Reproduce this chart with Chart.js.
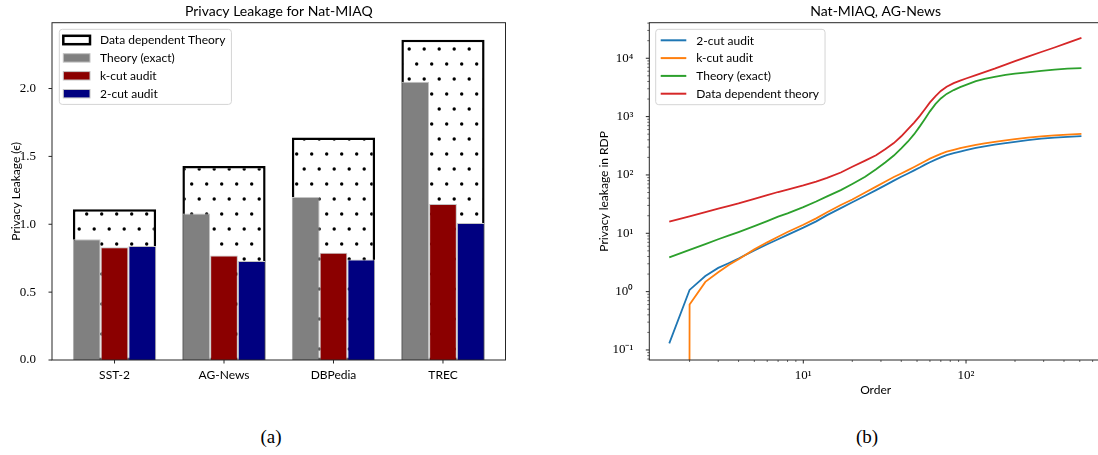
<!DOCTYPE html>
<html>
<head>
<meta charset="utf-8">
<script src="https://cdn.jsdelivr.net/npm/chart.js@4.4.1/dist/chart.umd.min.js"></script>
<style>
  html, body { margin: 0; padding: 0; background: #fff; overflow: hidden; }
  body { width: 1098px; height: 455px; position: relative; }
  .panel { position: absolute; top: 0; height: 400px; }
  #barWrap { left: 0; width: 520px; }
  #lineWrap { left: 560px; width: 560px; }
  .cap { position: absolute; top: 426px; font: 19px "Liberation Serif", serif; color: #000; transform: translateX(-50%); }
</style>
</head>
<body>
<div class="panel" id="barWrap"><canvas id="barChart" width="520" height="400"></canvas></div>
<div class="panel" id="lineWrap"><canvas id="lineChart" width="560" height="400"></canvas></div>
<div class="cap" style="left:271px">(a)</div>
<div class="cap" style="left:867px">(b)</div>
<script>
// (a) privacy leakage per dataset
const datasetNames = ['SST-2', 'AG-News', 'DBPedia', 'TREC'];
const dataDependent = [1.11, 1.43, 1.64, 2.36];
const theoryExact = [0.89, 1.08, 1.20, 2.05];
const kCutBars = [0.83, 0.77, 0.79, 1.15];
const twoCutBars = [0.84, 0.73, 0.74, 1.01];
const barTicks = [0, 0.5, 1.0, 1.5, 2.0];

// (b) RDP curves, Nat-MIAQ on AG-News
const orders = [1.5, 2, 2.5, 3, 3.5, 4, 5, 6, 7, 8, 10, 12, 14, 17, 20, 24, 28, 32, 36, 40, 44,
  48, 52, 56, 60, 65, 70, 76, 84, 92, 100, 115, 130, 150, 175, 200, 240, 290, 350, 420, 512];
const twoCut = [0.13, 1.07, 1.85, 2.55, 3.1, 3.7, 5.1, 6.5, 7.9, 9.4, 12.5, 16, 20.5, 27, 34, 44, 55,
  67, 80, 93, 106, 120, 134, 150, 165, 183, 200, 218, 237, 252, 266, 290, 310, 330, 352, 370, 395, 418, 436, 450, 463];
const kCut = [1e-300, 0.6, 1.47, 2.15, 2.9, 3.6, 5.3, 7.0, 8.7, 10.5, 14, 18, 23, 30.5, 38, 50, 63,
  77, 92, 106, 121, 137, 154, 172, 190, 210, 230, 250, 270, 287, 302, 327, 348, 368, 390, 410, 435, 460, 478, 493, 507];
const theory = [3.86, 5.2, 6.5, 7.9, 9.2, 10.5, 13.3, 16.2, 19.3, 22, 28, 35, 43, 55, 70, 93, 125,
  165, 215, 285, 375, 500, 680, 920, 1230, 1650, 2050, 2450, 2850, 3200, 3500, 4050, 4450, 4800, 5200, 5450, 5750, 6100, 6400, 6620, 6800];
const dataDep = [15.8, 19.5, 23, 26.5, 29.5, 32.5, 39, 45, 51, 56, 66, 77, 89, 110, 138, 176, 218,
  278, 352, 460, 610, 790, 1030, 1350, 1750, 2250, 2750, 3250, 3750, 4150, 4500, 5150, 5800, 6650, 7800, 8900, 10700, 12800, 15300, 18400, 22300];
const orderTicks = [10, 100];
const orderTickLabels = ['10\u00b9', '10\u00b2'];
const rdpTicks = [0.1, 1, 10, 100, 1000, 10000];
const rdpTickLabels = ['10\u207b\u00b9', '10\u2070', '10\u00b9', '10\u00b2', '10\u00b3', '10\u2074'];

Chart.defaults.font.family = 'Lato, sans-serif';
Chart.defaults.color = '#000';
const serif = { family: '"Liberation Serif", serif', size: 13 };

// frame around the axes + matplotlib-like tick marks
function minorLogTicks(scale) {
  const out = [];
  for (let e = Math.floor(Math.log10(scale.min)); e <= Math.ceil(Math.log10(scale.max)); e++) {
    for (let m = 2; m <= 9; m++) {
      const v = m * Math.pow(10, e);
      if (v > scale.min && v < scale.max) out.push(v);
    }
  }
  return out;
}

const frameTicks = {
  id: 'frameTicks',
  afterDraw(chart, args, o) {
    const { ctx, chartArea: a, scales } = chart;
    ctx.save();
    ctx.strokeStyle = '#262626';
    ctx.lineWidth = 1;
    ctx.strokeRect(a.left, a.top, a.right - a.left, a.bottom - a.top);
    const mark = (axis, v, len) => {
      const p = scales[axis].getPixelForValue(v);
      ctx.beginPath();
      if (axis === 'x') { ctx.moveTo(p, a.bottom); ctx.lineTo(p, a.bottom + len); }
      else { ctx.moveTo(a.left, p); ctx.lineTo(a.left - len, p); }
      ctx.stroke();
    };
    ['x', 'y'].forEach(axis => {
      scales[axis].ticks.forEach(t => mark(axis, t.value, 3.5));
      if (o.minor) {
        ctx.lineWidth = 0.7;
        minorLogTicks(scales[axis]).forEach(v => mark(axis, v, 2));
        ctx.lineWidth = 1;
      }
    });
    ctx.restore();
  }
};

// legend drawn inside the axes, like matplotlib's
const boxLegend = {
  id: 'boxLegend',
  afterDraw(chart, args, o) {
    const { ctx, chartArea: a } = chart;
    const items = chart.data.datasets;
    ctx.save();
    ctx.font = '12px Lato, sans-serif';
    const textW = Math.max(...items.map(d => ctx.measureText(d.label).width));
    const x0 = a.left + o.dx, y0 = a.top + o.dy;
    const w = o.textX + textW + 6, h = 2 * o.firstRow + (items.length - 1) * o.rowH;
    ctx.beginPath();
    ctx.roundRect(x0, y0, w, h, 3);
    ctx.fillStyle = 'rgba(255,255,255,0.85)';
    ctx.fill();
    ctx.strokeStyle = '#d4d4d4';
    ctx.lineWidth = 1;
    ctx.stroke();
    items.forEach((d, i) => {
      const cy = y0 + o.firstRow + i * o.rowH;
      const sx = x0 + o.swX;
      if (o.kind === 'line') {
        ctx.strokeStyle = d.borderColor;
        ctx.lineWidth = 2;
        ctx.beginPath(); ctx.moveTo(sx, cy); ctx.lineTo(sx + o.swW, cy); ctx.stroke();
      } else {
        const hollow = typeof d.backgroundColor !== 'string';
        ctx.fillStyle = hollow ? '#fff' : d.backgroundColor;
        ctx.fillRect(sx, cy - 4.2, o.swW, 8.4);
        ctx.strokeStyle = d.borderColor;
        ctx.lineWidth = hollow ? 2.5 : 1;
        ctx.strokeRect(sx, cy - 4.2, o.swW, 8.4);
      }
      ctx.fillStyle = '#000';
      ctx.textBaseline = 'middle';
      ctx.fillText(d.label, x0 + o.textX, cy + 0.5);
    });
    ctx.restore();
  }
};

// dotted hatch for the data dependent bound
const barCanvas = document.getElementById('barChart');
function makeDots() {
  const c = document.createElement('canvas');
  c.width = 15; c.height = 30;
  const g = c.getContext('2d');
  g.fillStyle = '#fff'; g.fillRect(0, 0, 15, 30);
  g.fillStyle = '#000';
  [[11.7, 4], [4.2, 19]].forEach(([x, y]) => {
    g.beginPath(); g.arc(x, y, 1.7, 0, Math.PI * 2); g.fill();
  });
  return barCanvas.getContext('2d').createPattern(c, 'repeat');
}

const asPoints = vals => vals.map((v, i) => ({ x: i, y: v }));
const barStyle = { borderColor: '#c4c4c4', borderWidth: 1, categoryPercentage: 0.76, barPercentage: 1, order: 1 };

new Chart(barCanvas, {
  type: 'bar',
  data: {
    datasets: [
      { label: 'Data dependent Theory', data: asPoints(dataDependent), backgroundColor: makeDots(),
        borderColor: '#000', borderWidth: 2.5, borderSkipped: false, grouped: false,
        categoryPercentage: 0.76, barPercentage: 1, order: 2 },
      { label: 'Theory (exact)', data: asPoints(theoryExact), backgroundColor: '#808080', ...barStyle },
      { label: 'k-cut audit', data: asPoints(kCutBars), backgroundColor: '#8b0000', ...barStyle },
      { label: '2-cut audit', data: asPoints(twoCutBars), backgroundColor: '#000080', ...barStyle }
    ]
  },
  options: {
    responsive: false,
    animation: false,
    layout: { padding: { left: 0, right: 14.5, top: 0, bottom: 0 } },
    scales: {
      x: {
        type: 'linear', offset: false, min: -0.571, max: 3.571,
        grid: { display: false, offset: false }, border: { display: false },
        afterBuildTicks: s => { s.ticks = datasetNames.map((_, i) => ({ value: i })); },
        afterFit: s => { s.height = 40; },
        ticks: { autoSkip: false, maxRotation: 0, padding: 0, font: { size: 12 },
          callback: (v, i) => datasetNames[i] }
      },
      y: {
        min: 0, max: 2.485,
        grid: { display: false }, border: { display: false },
        afterBuildTicks: s => { s.ticks = barTicks.map(v => ({ value: v })); },
        afterFit: s => { s.width = 52; },
        ticks: { padding: 8, font: serif, callback: v => v.toFixed(1) },
        title: { display: true, text: 'Privacy Leakage (\u03f5)', font: { size: 12 }, padding: { top: 9, bottom: 0 } }
      }
    },
    plugins: {
      legend: { display: false },
      tooltip: { enabled: false },
      title: { display: true, text: 'Privacy Leakage for Nat-MIAQ', fullSize: false,
        font: { size: 14, weight: 'normal' }, padding: { top: 2.7, bottom: 3.2 } },
      boxLegend: { dx: 7.3, dy: 6.6, swX: 4, swW: 26.7, textX: 40.7, firstRow: 10.7, rowH: 17.9, kind: 'box' },
      frameTicks: { minor: false }
    }
  },
  plugins: [frameTicks, boxLegend]
});

const asXY = vals => vals.map((v, i) => ({ x: orders[i], y: v }));

new Chart(document.getElementById('lineChart'), {
  type: 'line',
  data: {
    datasets: [
      { label: '2-cut audit', data: asXY(twoCut), borderColor: '#1f77b4', order: 4 },
      { label: 'k-cut audit', data: asXY(kCut), borderColor: '#ff7f0e', order: 3 },
      { label: 'Theory (exact)', data: asXY(theory), borderColor: '#2ca02c', order: 2 },
      { label: 'Data dependent theory', data: asXY(dataDep), borderColor: '#d62728', order: 1 }
    ]
  },
  options: {
    responsive: false,
    animation: false,
    layout: { padding: { left: 0, right: 18, top: 0, bottom: 0 } },
    elements: { point: { radius: 0 }, line: { borderWidth: 1.8, tension: 0, fill: false } },
    scales: {
      x: {
        type: 'logarithmic', min: 1.131, max: 685,
        grid: { display: false }, border: { display: false },
        afterBuildTicks: s => { s.ticks = orderTicks.map(v => ({ value: v })); },
        afterFit: s => { s.height = 40; },
        ticks: { autoSkip: false, maxRotation: 0, padding: 0, font: serif,
          callback: (v, i) => orderTickLabels[i] },
        title: { display: true, text: 'Order', font: { size: 12 }, padding: { top: 0, bottom: 3 } }
      },
      y: {
        type: 'logarithmic', min: 0.0673, max: 40700,
        grid: { display: false }, border: { display: false },
        afterBuildTicks: s => { s.ticks = rdpTicks.map(v => ({ value: v })); },
        afterFit: s => { s.width = 89.3; },
        ticks: { autoSkip: false, padding: 8, font: serif, callback: (v, i) => rdpTickLabels[i] },
        title: { display: true, text: 'Privacy leakage in RDP', font: { size: 12 }, padding: { top: 37, bottom: 0 } }
      }
    },
    plugins: {
      legend: { display: false },
      tooltip: { enabled: false },
      title: { display: true, text: 'Nat-MIAQ, AG-News', fullSize: false,
        font: { size: 14, weight: 'normal' }, padding: { top: 2.7, bottom: 3.2 } },
      boxLegend: { dx: 6.4, dy: 6.6, swX: 5, swW: 25.6, textX: 40.6, firstRow: 11, rowH: 17.8, kind: 'line' },
      frameTicks: { minor: true }
    }
  },
  plugins: [frameTicks, boxLegend]
});
</script>
</body>
</html>
